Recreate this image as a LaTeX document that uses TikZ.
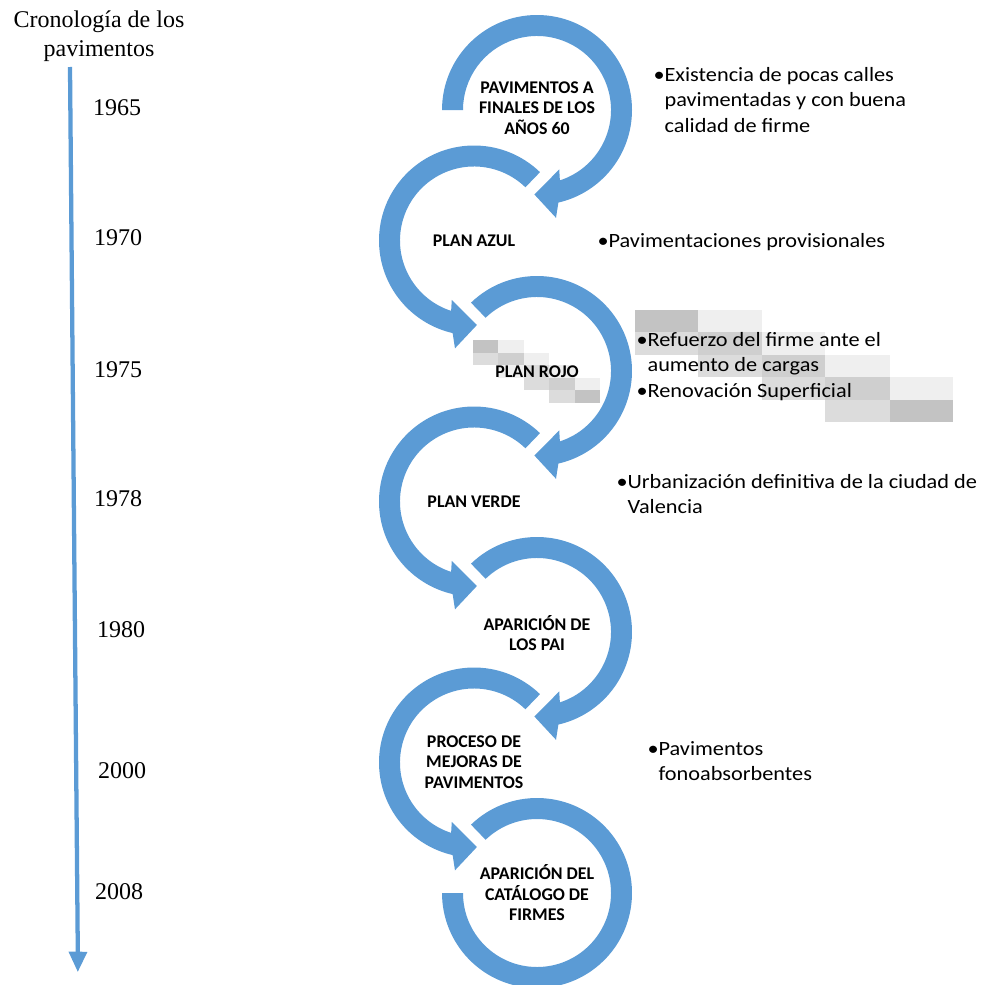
\documentclass[tikz,border=0pt]{standalone}
\usepackage{fontspec}
\setmainfont{Liberation Serif}
\newfontfamily\calibrifont{Carlito}
\newfontfamily\notefont[FakeStretch=1.1]{Carlito}

\definecolor{ringblue}{RGB}{91,155,213}
\definecolor{pixdark}{RGB}{195,195,195}
\definecolor{pixmid}{RGB}{207,207,207}
\definecolor{pixsoft}{RGB}{220,220,220}
\definecolor{pixlight}{RGB}{239,239,239}

\tikzset{every picture/.style={line width=0.75pt}}
\tikzset{
  ringarrow/.style={draw opacity=0, fill=ringblue},
  pixel/.style={draw opacity=0},
  titlelabel/.style={font=\fontsize{18}{21.75}\selectfont, align=center, inner sep=0pt},
  yearlabel/.style={font=\fontsize{18}{21.75}\selectfont, inner sep=0pt},
  stagelabel/.style={font=\calibrifont\bfseries\fontsize{13.4}{15.4}\selectfont, align=center, inner sep=0pt},
  notelabel/.style={font=\notefont\fontsize{15.2}{18.9}\selectfont, align=left, anchor=base west, inner sep=0pt},
}

\begin{document}
\begin{tikzpicture}[x=0.75pt,y=0.75pt,yscale=-1,xscale=1]
	\useasboundingbox (0,0) rectangle (982,985); %page 982 x 985

	%Shape: Circular Arrow 1
	\draw [shift={(537,110)}, ringarrow] (-180:95) arc[start angle=-180, end angle=77, radius=95] -- (80:109.5) -- (91.8:84.5) -- (69.5:63.5) -- (72:74) arc[start angle=72, end angle=-180, radius=74] -- cycle ;
	%Shape: Circular Arrow 2
	\draw [shift={(474,240.5)}, ringarrow] (-46:95) arc[start angle=-46, end angle=-257, radius=95] -- (-260:109.5) -- (-272:84.5) -- (-249.5:63.5) -- (-252:74) arc[start angle=-252, end angle=-46, radius=74] -- cycle ;
	%Shape: Circular Arrow 3
	\draw [shift={(537,371)}, ringarrow] (-134:95) arc[start angle=-134, end angle=77, radius=95] -- (80:109.5) -- (91.8:84.5) -- (69.5:63.5) -- (72:74) arc[start angle=72, end angle=-134, radius=74] -- cycle ;
	%Shape: Circular Arrow 4
	\draw [shift={(474,501.5)}, ringarrow] (-46:95) arc[start angle=-46, end angle=-257, radius=95] -- (-260:109.5) -- (-272:84.5) -- (-249.5:63.5) -- (-252:74) arc[start angle=-252, end angle=-46, radius=74] -- cycle ;
	%Shape: Circular Arrow 5
	\draw [shift={(537,632)}, ringarrow] (-134:95) arc[start angle=-134, end angle=77, radius=95] -- (80:109.5) -- (91.8:84.5) -- (69.5:63.5) -- (72:74) arc[start angle=72, end angle=-134, radius=74] -- cycle ;
	%Shape: Circular Arrow 6
	\draw [shift={(474,762.5)}, ringarrow] (-46:95) arc[start angle=-46, end angle=-257, radius=95] -- (-260:109.5) -- (-272:84.5) -- (-249.5:63.5) -- (-252:74) arc[start angle=-252, end angle=-46, radius=74] -- cycle ;
	%Shape: Circular Arrow 7
	\draw [shift={(537,893)}, ringarrow] (-134:95) arc[start angle=-134, end angle=180, radius=95] -- (180:74) arc[start angle=180, end angle=-134, radius=74] -- cycle ;

	%Straight Lines
	\coordinate (tltop) at (70,67);
	\coordinate (tlend) at (77.8,952);
	\draw [color=ringblue, line width=3.2pt] (tltop) -- (tlend) ;
	\draw [shift={(77.8,971.7)}, rotate=270.5] [fill=ringblue] [draw opacity=0] (20,-9.5) -- (0,0) -- (20,9.5) -- cycle ;

	%Shape: Rectangle
	\draw [pixel, fill=pixdark] (473,340) -- (498,340) -- (498,352.5) -- (473,352.5) -- cycle ;
	\draw [pixel, fill=pixlight] (498,340) -- (524,340) -- (524,352.5) -- (498,352.5) -- cycle ;
	\draw [pixel, fill=pixsoft] (473,352.5) -- (498,352.5) -- (498,365) -- (473,365) -- cycle ;
	\draw [pixel, fill=pixmid] (498,352.5) -- (524,352.5) -- (524,365) -- (498,365) -- cycle ;
	\draw [pixel, fill=pixlight] (524,352.5) -- (549,352.5) -- (549,365) -- (524,365) -- cycle ;
	\draw [pixel, fill=pixlight] (498,365) -- (524,365) -- (524,377.5) -- (498,377.5) -- cycle ;
	\draw [pixel, fill=pixsoft] (524,365) -- (549,365) -- (549,377.5) -- (524,377.5) -- cycle ;
	\draw [pixel, fill=pixlight] (549,365) -- (575,365) -- (575,377.5) -- (549,377.5) -- cycle ;
	\draw [pixel, fill=pixsoft] (524,377.5) -- (549,377.5) -- (549,390) -- (524,390) -- cycle ;
	\draw [pixel, fill=pixmid] (549,377.5) -- (575,377.5) -- (575,390) -- (549,390) -- cycle ;
	\draw [pixel, fill=pixlight] (575,377.5) -- (600,377.5) -- (600,390) -- (575,390) -- cycle ;
	\draw [pixel, fill=pixsoft] (549,390) -- (575,390) -- (575,402.5) -- (549,402.5) -- cycle ;
	\draw [pixel, fill=pixdark] (575,390) -- (600,390) -- (600,402.5) -- (575,402.5) -- cycle ;
	%Shape: Rectangle
	\draw [pixel, fill=pixdark] (635,310) -- (698,310) -- (698,332) -- (635,332) -- cycle ;
	\draw [pixel, fill=pixlight] (698,310) -- (762,310) -- (762,332) -- (698,332) -- cycle ;
	\draw [pixel, fill=pixsoft] (635,332) -- (698,332) -- (698,355) -- (635,355) -- cycle ;
	\draw [pixel, fill=pixmid] (698,332) -- (762,332) -- (762,355) -- (698,355) -- cycle ;
	\draw [pixel, fill=pixlight] (762,332) -- (825,332) -- (825,355) -- (762,355) -- cycle ;
	\draw [pixel, fill=pixsoft] (698,355) -- (762,355) -- (762,377) -- (698,377) -- cycle ;
	\draw [pixel, fill=pixmid] (762,355) -- (825,355) -- (825,377) -- (762,377) -- cycle ;
	\draw [pixel, fill=pixlight] (825,355) -- (890,355) -- (890,377) -- (825,377) -- cycle ;
	\draw [pixel, fill=pixsoft] (762,377) -- (825,377) -- (825,400) -- (762,400) -- cycle ;
	\draw [pixel, fill=pixmid] (825,377) -- (890,377) -- (890,400) -- (825,400) -- cycle ;
	\draw [pixel, fill=pixlight] (890,377) -- (953,377) -- (953,400) -- (890,400) -- cycle ;
	\draw [pixel, fill=pixsoft] (825,400) -- (890,400) -- (890,422) -- (825,422) -- cycle ;
	\draw [pixel, fill=pixdark] (890,400) -- (953,400) -- (953,422) -- (890,422) -- cycle ;

	% Text Node
	\draw (99,36) node (title) [titlelabel] {Cronología de los\\pavimentos};
	% Text Node
	\draw (117,107.5) node (yr1965) [yearlabel] {1965};
	% Text Node
	\draw (118,238) node (yr1970) [yearlabel] {1970};
	% Text Node
	\draw (118,370) node (yr1975) [yearlabel] {1975};
	% Text Node
	\draw (118,499) node (yr1978) [yearlabel] {1978};
	% Text Node
	\draw (121,630) node (yr1980) [yearlabel] {1980};
	% Text Node
	\draw (122,771) node (yr2000) [yearlabel] {2000};
	% Text Node
	\draw (119,892) node (yr2008) [yearlabel] {2008};

	% Text Node
	\draw (537,108) node (stage1) [stagelabel] {PAVIMENTOS A\\FINALES DE LOS\\AÑOS 60};
	% Text Node
	\draw (474,241) node (stage2) [stagelabel] {PLAN AZUL};
	% Text Node
	\draw (537,372) node (stage3) [stagelabel] {PLAN ROJO};
	% Text Node
	\draw (474,502) node (stage4) [stagelabel] {PLAN VERDE};
	% Text Node
	\draw (537,633) node (stage5) [stagelabel] {APARICIÓN DE\\LOS PAI};
	% Text Node
	\draw (474,762) node (stage6) [stagelabel] {PROCESO DE\\MEJORAS DE\\PAVIMENTOS};
	% Text Node
	\draw (537,893) node (stage7) [stagelabel] {APARICIÓN DEL\\CATÁLOGO DE\\FIRMES};

	% Text Node (base = last line)
	\draw (653,132.1) node (note1) [notelabel] {•Existencia de pocas calles\\\phantom{•}pavimentadas y con buena\\\phantom{•}calidad de firme};
	% Text Node
	\draw (597,247) node (note2) [notelabel] {•Pavimentaciones provisionales};
	% Text Node
	\draw (636,397.1) node (note3) [notelabel] {•Refuerzo del firme ante el\\\phantom{•}aumento de cargas\\•Renovación Superficial};
	% Text Node
	\draw (616,513.2) node (note4) [notelabel] {•Urbanización definitiva de la ciudad de\\\phantom{•}Valencia};
	% Text Node
	\draw (647,780.2) node (note5) [notelabel] {•Pavimentos\\\phantom{•}fonoabsorbentes};

\end{tikzpicture}
\end{document}
